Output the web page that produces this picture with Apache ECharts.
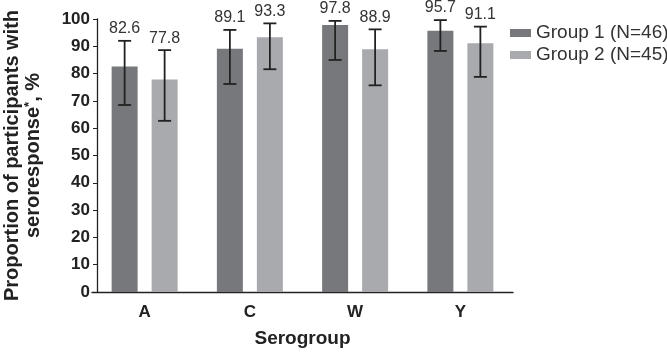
<!DOCTYPE html>
<html>
<head>
<meta charset="utf-8">
<script src="https://cdn.jsdelivr.net/npm/echarts@6/dist/echarts.min.js"></script>
<style>
  html, body { margin: 0; padding: 0; background: #fff; }
  #chart { width: 667px; height: 353px; }
</style>
</head>
<body>
<div id="chart"></div>
<script>
const categories = ["A", "C", "W", "Y"];
const yTicks = [0, 10, 20, 30, 40, 50, 60, 70, 80, 90, 100];

const group1Name = "Group 1 (N=46)";
const group1Values = [82.6, 89.1, 97.8, 95.7];
const group1Low = [68.5, 76.2, 85.0, 88.3];
const group1High = [92.0, 96.0, 99.3, 99.6];

const group2Name = "Group 2 (N=45)";
const group2Values = [77.8, 93.3, 88.9, 91.1];
const group2Low = [62.7, 81.6, 75.7, 78.8];
const group2High = [88.6, 98.4, 96.2, 97.2];

const colors = ["#77787c", "#a9aaae"];
const FONT = "Liberation Sans, Arial, sans-serif";
const BAR_W = 26;
const BAR_GAP = 14;

const chart = echarts.init(document.getElementById("chart"));

// error bar + value label drawn on top of each bar
function errorSeries(values, low, high, side) {
  return {
    type: "custom",
    silent: true,
    z: 5,
    data: values.map((v, i) => [i, v, low[i], high[i]]),
    renderItem: (params, api) => {
      const shift = side * (BAR_W + BAR_GAP) / 2;
      const top = api.coord([api.value(0), api.value(3)]);
      const bot = api.coord([api.value(0), api.value(2)]);
      const x = top[0] + shift;
      const cap = 6.5;
      const st = { stroke: "#222", lineWidth: 1.8 };
      return {
        type: "group",
        children: [
          { type: "line", shape: { x1: x, y1: top[1], x2: x, y2: bot[1] }, style: st },
          { type: "line", shape: { x1: x - cap, y1: top[1], x2: x + cap, y2: top[1] }, style: st },
          { type: "line", shape: { x1: x - cap, y1: bot[1], x2: x + cap, y2: bot[1] }, style: st },
          {
            type: "text",
            style: {
              text: api.value(1).toFixed(1),
              x: x, y: top[1] - 4,
              align: "center", verticalAlign: "bottom",
              fill: "#333", font: "16px " + FONT
            }
          }
        ]
      };
    }
  };
}

const option = {
  animation: false,
  textStyle: { fontFamily: FONT },
  grid: { left: 92, right: 154, top: 19, bottom: 61, containLabel: false, outerBoundsMode: "none" },
  legend: {
    orient: "vertical",
    left: 510,
    top: 22,
    padding: 0,
    itemWidth: 21,
    itemHeight: 8,
    itemGap: 0,
    icon: "rect",
    textStyle: { fontSize: 19, lineHeight: 22, color: "#333", fontFamily: FONT },
    data: [group1Name, group2Name]
  },
  xAxis: {
    type: "category",
    data: categories,
    name: "Serogroup",
    nameLocation: "middle",
    nameGap: 37,
    nameTextStyle: { fontSize: 19, fontWeight: "bold", color: "#222" },
    axisLine: { lineStyle: { color: "#222", width: 1.3 } },
    axisTick: { alignWithLabel: true, length: 4, lineStyle: { color: "#222" } },
    axisLabel: { fontSize: 17, fontWeight: "bold", color: "#222", margin: 12 }
  },
  yAxis: {
    type: "value",
    min: 0,
    max: yTicks[yTicks.length - 1],
    interval: yTicks[1] - yTicks[0],
    offset: -5,
    name: "Proportion of participants with\nseroresponse{sup|*}, %",
    nameLocation: "middle",
    nameGap: 53,
    nameRotate: 90,
    nameTextStyle: {
      fontSize: 20, fontWeight: "bold", color: "#222", lineHeight: 21,
      rich: { sup: { fontSize: 13, fontWeight: "bold", color: "#222", verticalAlign: "top", padding: [0, 0, 8, 0] } }
    },
    axisLine: { show: true, lineStyle: { color: "#222", width: 1.3 } },
    axisTick: { show: true, length: 4, lineStyle: { color: "#222" } },
    axisLabel: { fontSize: 17, fontWeight: "bold", color: "#222", margin: 7 },
    splitLine: { show: false }
  },
  series: [
    {
      name: group1Name, type: "bar", data: group1Values,
      barWidth: BAR_W, barGap: (BAR_GAP / BAR_W * 100) + "%",
      itemStyle: { color: colors[0] }
    },
    {
      name: group2Name, type: "bar", data: group2Values,
      barWidth: BAR_W,
      itemStyle: { color: colors[1] }
    },
    errorSeries(group1Values, group1Low, group1High, -1),
    errorSeries(group2Values, group2Low, group2High, 1)
  ]
};

chart.setOption(option);
</script>
</body>
</html>
